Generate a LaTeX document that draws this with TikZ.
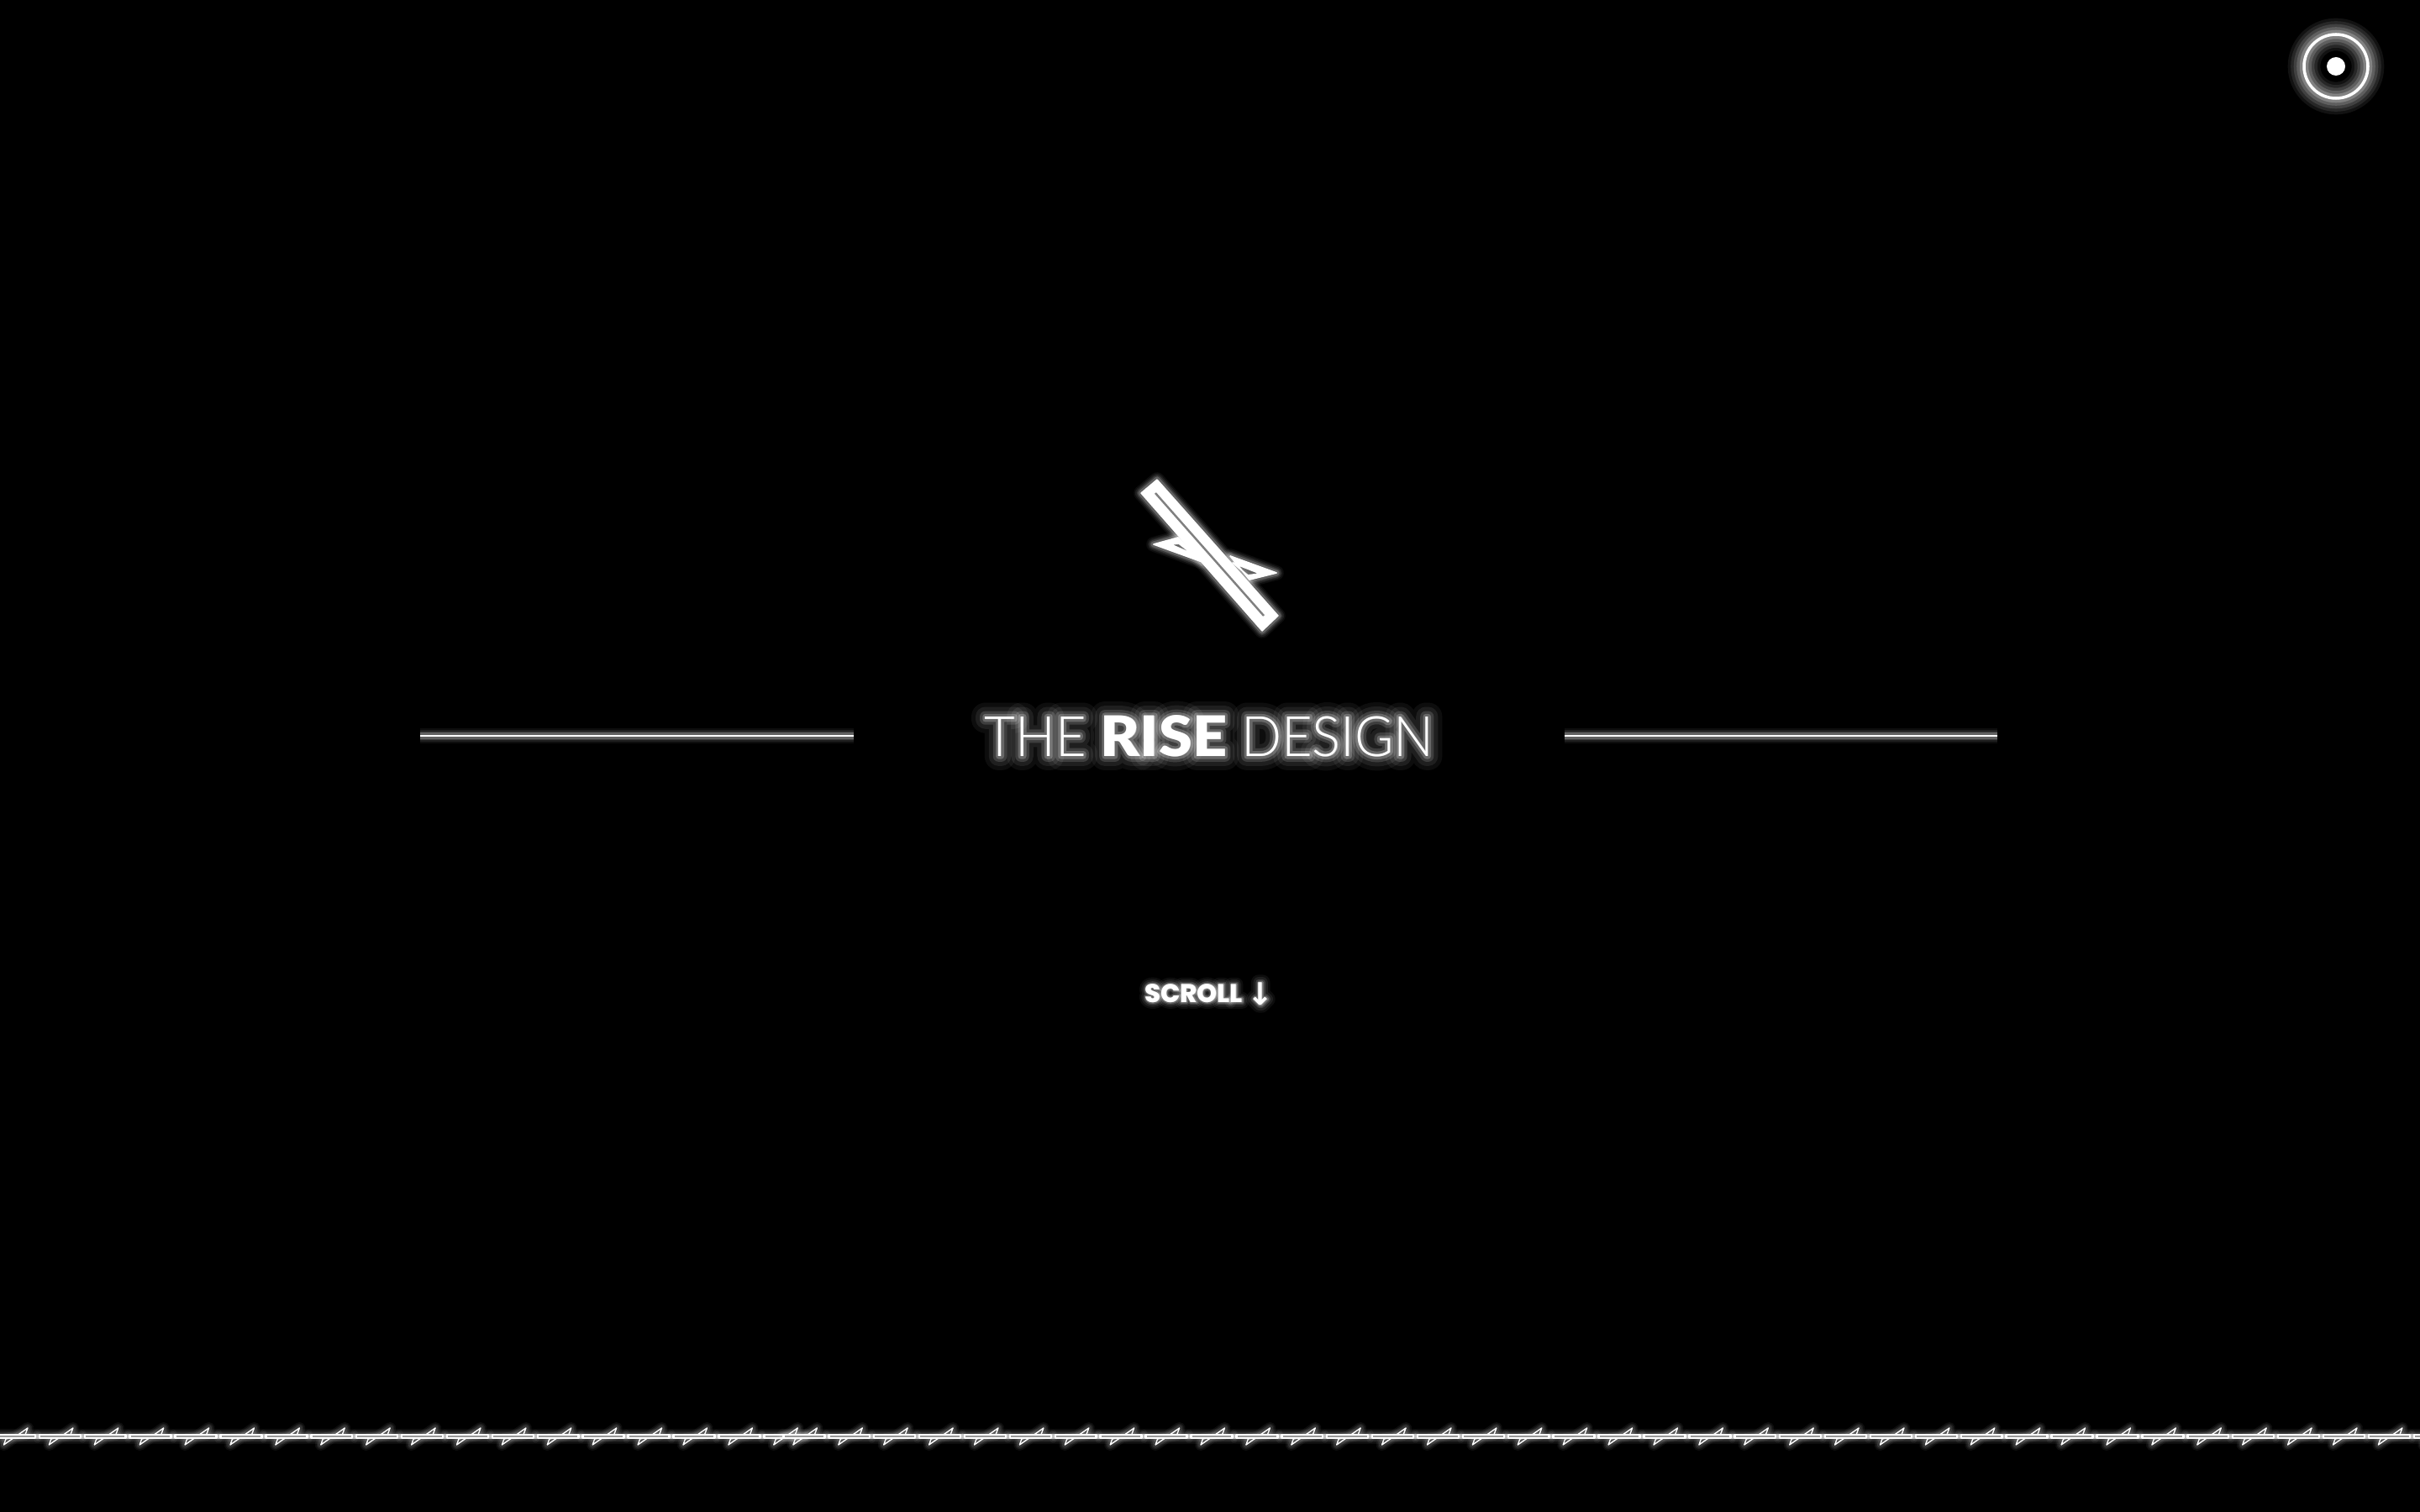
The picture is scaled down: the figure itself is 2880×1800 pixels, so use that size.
\documentclass[tikz,border=0pt]{standalone}
\usepackage{fontspec}
\setmainfont{Lato}
\newfontfamily\titlelight[FakeStretch=0.95]{Lato Light}
\newfontfamily\titleheavy[FakeStretch=1.08]{Lato Black}
\newfontfamily\scrollheavy{Poppins ExtraBold}
\newfontfamily\arrowfont[Scale=1.2]{DejaVu Sans Bold}
\usetikzlibrary{positioning}

\tikzset{
  glowpass/.style 2 args={preaction={draw=white,line join=round,line width=#1,opacity=#2}},
  glowline/.style={draw=white,line join=round,
    glowpass={5.0pt}{0.05},glowpass={4.0pt}{0.08},glowpass={3.0pt}{0.12},glowpass={2.0pt}{0.20}},
  wireglow/.style={draw=white,line join=round,
    glowpass={4.0pt}{0.05},glowpass={3.0pt}{0.07},glowpass={2.0pt}{0.10}},
  buttonglow/.style={draw=white,
    glowpass={11pt}{0.07},glowpass={9pt}{0.09},glowpass={7pt}{0.12},glowpass={5pt}{0.16},glowpass={3pt}{0.22}},
  titletext/.style={inner sep=0pt,text=white,font=\fontsize{18.9}{18.9}\selectfont},
  scrolltext/.style={inner sep=0pt,text=white,font=\fontsize{8.7}{8.7}\selectfont},
}

\newcommand{\titlewords}[1]{\titlelight\addfontfeature{FakeBold=#1}THE {\titleheavy\addfontfeature{FakeBold=#1}RISE} DESIGN}
\newcommand{\scrollwords}[1]{\scrollheavy\addfontfeature{FakeBold=#1}SCROLL \raisebox{-0.9pt}{\arrowfont\addfontfeature{FakeBold=#1}↓}}

% wire tile: bar with barb, origin at the left of the tile
\newcommand{\wiretile}[1]{
  \draw[wireglow,line width=0.4pt] (#1+4.5,1720) -- (#1+33,1700) -- (#1+30,1708) -- (#1+7,1713) -- cycle;
  \draw[wireglow,line width=0.7pt,fill=gray!80] (#1-7,1708.2) rectangle (#1+41.9,1711.8);
}

\begin{document}
\begin{tikzpicture}[x=0.01cm,y=-0.01cm]
  \useasboundingbox (0,0) rectangle (2880,1800);
  \fill[black] (0,0) rectangle (2880,1800);
  \clip (0,0) rectangle (2880,1800);

  % top right button
  \draw[buttonglow,line width=1pt] (2780,79) circle (38);
  \fill[white] (2780,79) circle (11);

  % logo
  \draw[glowline,line width=0.5pt,fill=white,even odd rule]
    (1373,648) -- (1402,640) -- (1431,669) -- cycle
    (1393,648) -- (1403,647) -- (1420,660) -- cycle;
  \draw[glowline,line width=0.5pt,fill=white,even odd rule]
    (1519,682) -- (1464,662) -- (1487,690) -- cycle
    (1467,670) -- (1500,683) -- (1485,685) -- cycle;
  \draw[glowline,line width=0.4pt,fill=white]
    (1377,571) -- (1358,587) -- (1502,751) -- (1521,733) -- cycle;
  \draw[gray,line width=0.7pt] (1375,587) -- (1504,733);

  % rules beside the title
  \draw[glowline,line width=0.6pt] (500,876) -- (1016,876);
  \draw[glowline,line width=0.6pt] (1862,876) -- (2377,876);

  % title and scroll hint
  \begin{scope}[line join=round,miter limit=1]
    \foreach \fb/\op in {50/0.05,35/0.08,20/0.14,10/0.22} {
      \node[titletext,opacity=\op] (titleglow\fb) at (1439,876) {\titlewords{\fb}};
      \node[scrolltext,opacity=\op] (scrollglow\fb) at (1439,1183) {\scrollwords{\fb}};
    }
  \end{scope}
  \node[titletext] (title) at (1439,876) {\titlewords{0}};
  \node[scrolltext] (scroll) at (1439,1183) {\scrollwords{0}};

  % wire
  \draw[gray!70,line width=1.7pt] (0,1710) -- (2880,1710);
  \foreach \i in {0,...,17} {
    \pgfmathsetmacro{\tx}{\i*53.9}
    \wiretile{\tx}
  }
  \foreach \i in {0,...,36} {
    \pgfmathsetmacro{\tx}{939.4+\i*53.9}
    \wiretile{\tx}
  }
\end{tikzpicture}
\end{document}
